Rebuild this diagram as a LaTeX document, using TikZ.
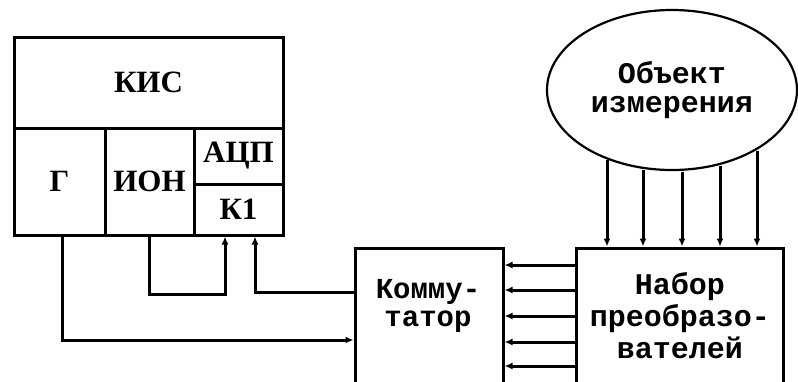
\documentclass[tikz,border=0pt]{standalone}
\usepackage{fontspec}
\setmainfont{Liberation Serif}
\newfontfamily\monofont{Liberation Mono}
\usetikzlibrary{arrows.meta,positioning,calc,shapes.geometric}
\tikzset{
  blok/.style={draw,line width=3pt,rectangle,inner sep=0pt,font=\fontsize{31}{31}\selectfont\bfseries},
  tekst/.style={align=center,font=\fontsize{30}{30}\selectfont\monofont\bfseries},
  strelka/.style={line width=3pt,-{Latex[length=8pt,width=7pt]}},
  lin/.style={line width=3pt},
}

\begin{document}
\begin{tikzpicture}[x=1pt,y=-1pt]
  \useasboundingbox (0,0) rectangle (798,381);
  \clip (0,0) rectangle (798,381);
  % KIS
  \node[blok,minimum width=269,minimum height=91] (kis) at (148.5,82.5) {КИС};
  \node[blok,minimum width=91,minimum height=107] (g) at (59.5,181.5) {Г};
  \node[blok,minimum width=89,minimum height=107] (ion) at (149.5,181.5) {ИОН};
  \node[blok,minimum width=89,minimum height=56] (acp) at (238.5,156) {АЦП};
  \node[blok,minimum width=89,minimum height=51] (k1) at (238.5,209.5) {К1};
  % kommutator, nabor, objekt
  \node[blok,minimum width=148,minimum height=142] (komm) at (429,319) {};
  \node[tekst,font=\fontsize{29}{28}\selectfont\monofont\bfseries] (komm-t) at (428,306) {Комму-\\татор};
  \node[blok,minimum width=207,minimum height=142] (nab) at (679.5,319) {};
  \node[tekst,font=\fontsize{30}{32}\selectfont\monofont\bfseries] (nab-t) at (680,316) {Набор\\преобразо-\\вателей};
  \node[draw,ellipse,line width=2.2pt,minimum width=250,minimum height=160,inner sep=0pt,tekst,
    font=\fontsize{30}{29}\selectfont\monofont\bfseries] (obj) at (672,90) {Объект\\измерения};
  \foreach \x/\y in {607/160, 643/169.5, 682/171.5, 720/165.5, 757/150.5}
    \draw[strelka] (\x,\y) -- (\x,0 |- nab.north);
  \foreach \y in {265,290,316,342,366}
    \draw[strelka] (nab.west |- 0,\y) -- (komm.east |- 0,\y);
  % svyazi
  \draw[strelka] ([xshift=2.5pt]g.south) |- (komm.west |- 0,340);
  \draw[strelka] (ion.south) -- ++(0,58) -| ([xshift=-13.5pt]k1.south);
  \draw[strelka] (komm.west |- 0,292) -| ([xshift=16.5pt]k1.south);
\end{tikzpicture}
\end{document}
